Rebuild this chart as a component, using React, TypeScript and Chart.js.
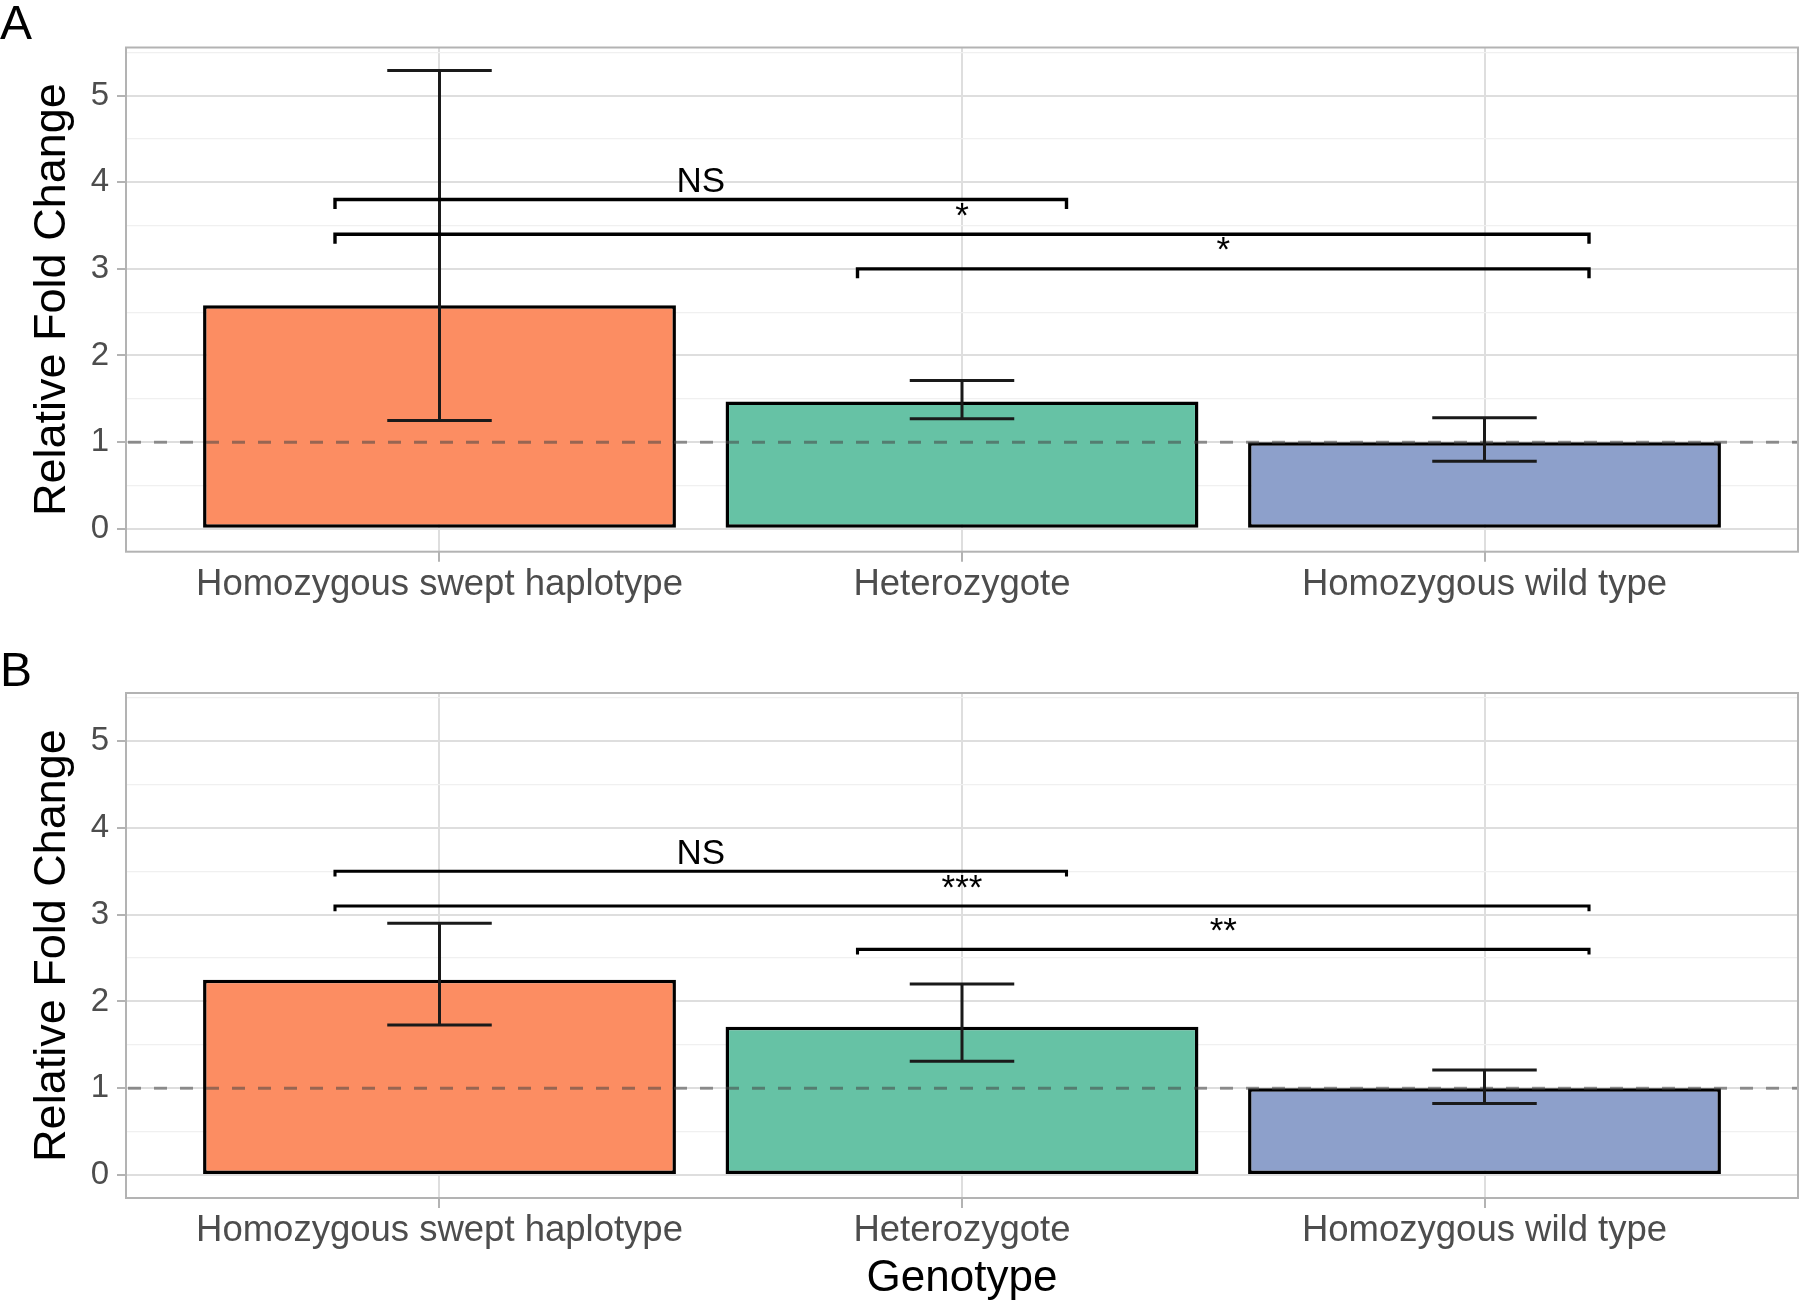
import React, { useEffect, useRef } from "react";
import { Chart, registerables } from "chart.js";

Chart.register(...registerables);
Chart.defaults.font.family = "'Liberation Sans', Arial, sans-serif";

// ---------- data ----------
const categories = ["Homozygous swept haplotype", "Heterozygote", "Homozygous wild type"];
const barColors = ["#FC8D62", "#66C2A5", "#8DA0CB"];

const meanA = [2.58, 1.47, 1.0];
const lowerA = [1.25, 1.27, 0.78];
const upperA = [5.29, 1.71, 1.28];

const meanB = [2.25, 1.71, 1.0];
const lowerB = [1.73, 1.31, 0.825];
const upperB = [2.9, 2.2, 1.21];

const bracketStart = [0.8, 0.8, 1.8];
const bracketEnd = [2.2, 3.2, 3.2];
const bracketYA = [3.8, 3.4, 3.0];
const bracketLabelsA = ["NS", "*", "*"];
const bracketYB = [3.5, 3.1, 2.6];
const bracketLabelsB = ["NS", "***", "**"];

const yTickValues = [0, 0.5, 1, 1.5, 2, 2.5, 3, 3.5, 4, 4.5, 5, 5.5];
const xTickValues = [1, 2, 3];
const referenceLine = 1;

const yDataMax = Math.max(...upperA);
const Y_MIN = -0.05 * yDataMax;
const Y_MAX = yDataMax * 1.05;

type Panel = {
  letter: string;
  mean: number[];
  lower: number[];
  upper: number[];
  bracketY: number[];
  labels: string[];
  tip: number;
  height: number;
  top: number;
  axisH: number;
  xTitle: string | null;
  letterBaseline: number;
  bracketWidth: number;
};

const panels: Panel[] = [
  {
    letter: "A", mean: meanA, lower: lowerA, upper: upperA,
    bracketY: bracketYA, labels: bracketLabelsA, tip: 0.11,
    height: 640, top: 47.5, axisH: 88.3, xTitle: null, letterBaseline: 38.5, bracketWidth: 3.4,
  },
  {
    letter: "B", mean: meanB, lower: lowerB, upper: upperB,
    bracketY: bracketYB, labels: bracketLabelsB, tip: 0.06,
    height: 664, top: 53, axisH: 106, xTitle: "Genotype", letterBaseline: 45.5, bracketWidth: 3.1,
  },
];

const FONT = "'Liberation Sans', Arial, sans-serif";

function makeExtras(p: Panel) {
  return {
    id: "panelExtras" + p.letter,
    afterDatasetsDraw(chart: any) {
      const { ctx, chartArea: ca, scales } = chart;
      const x = scales.x;
      const y = scales.y;
      ctx.save();
      ctx.beginPath();
      ctx.rect(ca.left, ca.top, ca.right - ca.left, ca.bottom - ca.top);
      ctx.clip();
      // reference dashed line
      const yr = y.getPixelForValue(referenceLine);
      ctx.beginPath();
      ctx.setLineDash([13, 13]);
      ctx.lineDashOffset = -2;
      ctx.strokeStyle = "rgba(70,70,70,0.55)";
      ctx.lineWidth = 3;
      ctx.moveTo(ca.left, yr);
      ctx.lineTo(ca.right, yr);
      ctx.stroke();
      ctx.setLineDash([]);

      // error bars
      ctx.strokeStyle = "#1a1a1a";
      ctx.lineWidth = 3;
      for (let i = 0; i < p.mean.length; i++) {
        const xv = xTickValues[i];
        const xc = x.getPixelForValue(xv);
        const xl = x.getPixelForValue(xv - 0.1);
        const xr = x.getPixelForValue(xv + 0.1);
        const yl = y.getPixelForValue(p.lower[i]);
        const yu = y.getPixelForValue(p.upper[i]);
        ctx.beginPath();
        ctx.moveTo(xc, yl);
        ctx.lineTo(xc, yu);
        ctx.moveTo(xl, yl);
        ctx.lineTo(xr, yl);
        ctx.moveTo(xl, yu);
        ctx.lineTo(xr, yu);
        ctx.stroke();
      }

      // significance brackets
      ctx.strokeStyle = "#000";
      ctx.lineWidth = p.bracketWidth;
      ctx.lineJoin = "miter";
      ctx.fillStyle = "#000";
      ctx.font = `35px ${FONT}`;
      ctx.textAlign = "center";
      ctx.textBaseline = "alphabetic";
      for (let i = 0; i < p.bracketY.length; i++) {
        const x0 = x.getPixelForValue(bracketStart[i]);
        const x1 = x.getPixelForValue(bracketEnd[i]);
        const yb = y.getPixelForValue(p.bracketY[i]);
        const yt = y.getPixelForValue(p.bracketY[i] - p.tip);
        ctx.beginPath();
        ctx.moveTo(x0, yt);
        ctx.lineTo(x0, yb);
        ctx.lineTo(x1, yb);
        ctx.lineTo(x1, yt);
        ctx.stroke();
        ctx.fillText(p.labels[i], (x0 + x1) / 2, yb - 7.5);
      }
      ctx.restore();

      // panel border
      ctx.save();
      ctx.strokeStyle = "#B3B3B3";
      ctx.lineWidth = 2;
      ctx.strokeRect(ca.left, ca.top, ca.right - ca.left, ca.bottom - ca.top);
      ctx.restore();

      // panel letter
      ctx.save();
      ctx.fillStyle = "#000";
      ctx.font = `48px ${FONT}`;
      ctx.textAlign = "left";
      ctx.textBaseline = "alphabetic";
      ctx.fillText(p.letter, 0, p.letterBaseline);
      ctx.restore();
    },
  };
}

function PanelChart({ p }: { p: Panel }) {
  const ref = useRef<HTMLCanvasElement | null>(null);
  useEffect(() => {
    if (!ref.current) return;
    const chart = new Chart(ref.current, {
      type: "bar",
      data: {
        datasets: [
          {
            data: p.mean.map((v, i) => ({ x: xTickValues[i], y: v })),
            backgroundColor: barColors,
            borderColor: "#000",
            borderWidth: 3.5,
            borderSkipped: false,
            barPercentage: 0.905,
            categoryPercentage: 1.0,
          } as any,
        ],
      },
      options: {
        responsive: false,
        maintainAspectRatio: false,
        devicePixelRatio: 1,
        animation: false,
        events: [],
        layout: { padding: { top: p.top, right: 2, left: 0, bottom: 0 } },
        plugins: { legend: { display: false }, tooltip: { enabled: false }, title: { display: false } },
        scales: {
          x: {
            type: "linear",
            min: 0.4,
            max: 3.6,
            offset: false,
            afterBuildTicks: (s: any) => {
              s.ticks = xTickValues.map((v) => ({ value: v }));
            },
            afterFit: (s: any) => {
              s.height = p.axisH;
            },
            ticks: {
              autoSkip: false,
              maxRotation: 0,
              minRotation: 0,
              padding: 5,
              color: "#4D4D4D",
              font: { size: 36.5, lineHeight: 1 },
              callback: (v: any) => categories[Math.round(Number(v)) - 1] ?? "",
            },
            grid: {
              offset: false,
              color: "#DEDEDE",
              lineWidth: 2,
              tickLength: 10,
              tickColor: "#B3B3B3",
              drawTicks: true,
            },
            border: { display: false },
            title: p.xTitle
              ? {
                  display: true,
                  text: p.xTitle,
                  color: "#000",
                  font: { size: 44 },
                  padding: { top: 0, bottom: -1.5 },
                }
              : { display: false },
          },
          y: {
            type: "linear",
            min: Y_MIN,
            max: Y_MAX,
            afterBuildTicks: (s: any) => {
              s.ticks = yTickValues.map((v) => ({ value: v }));
            },
            afterFit: (s: any) => {
              s.width = 126;
            },
            ticks: {
              autoSkip: false,
              padding: 8,
              color: "#4D4D4D",
              font: { size: 33 },
              callback: (v: any) => (Number.isInteger(Number(v)) ? String(v) : ""),
            },
            grid: {
              color: (c: any) => (c.tick && Number.isInteger(c.tick.value) ? "#DEDEDE" : "#F0F0F0"),
              lineWidth: (c: any) => (c.tick && Number.isInteger(c.tick.value) ? 2 : 1.3),
              tickColor: (c: any) =>
                c.tick && Number.isInteger(c.tick.value) ? "#B3B3B3" : "rgba(0,0,0,0)",
              tickLength: 9,
              drawTicks: true,
            },
            border: { display: false },
            title: {
              display: true,
              text: "Relative Fold Change",
              color: "#000",
              font: { size: 45 },
              padding: { top: 26, bottom: 0 },
            },
          },
        },
      },
      plugins: [makeExtras(p)],
    } as any);
    return () => chart.destroy();
  }, [p]);
  return <canvas ref={ref} width={1800} height={p.height} style={{ display: "block" }} />;
}

export default function App() {
  return (
    <div style={{ position: "absolute", top: 0, left: 0, width: 1800, height: 1304, background: "#fff" }}>
      {panels.map((p) => (
        <PanelChart key={p.letter} p={p} />
      ))}
    </div>
  );
}
